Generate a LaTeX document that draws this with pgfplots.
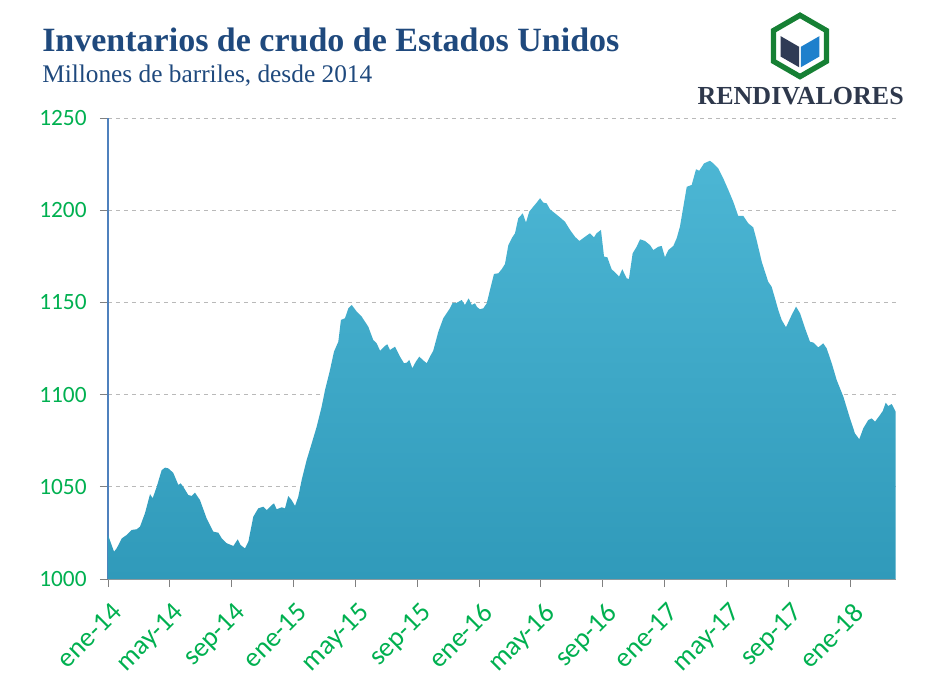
\documentclass[border=0pt]{standalone}
\usepackage{pgfplots}
\pgfplotsset{compat=1.18}
\usetikzlibrary{calc}
\usepackage{fontspec}
\setmainfont{Carlito}
\newfontfamily\titlefont{Liberation Serif}
\definecolor{titleblue}{RGB}{31,73,125}
\definecolor{tickgreen}{RGB}{0,176,80}
\definecolor{filltop}{RGB}{76,182,212}
\definecolor{fillbot}{RGB}{48,154,186}
\definecolor{axisblue}{RGB}{79,129,189}
\definecolor{logogreen}{RGB}{22,128,52}
\definecolor{logonavy}{RGB}{47,59,85}
\definecolor{logoblue}{RGB}{30,128,204}
\definecolor{logotext}{RGB}{46,56,76}
\pgfplotstableread{
x y
0.00 1023.9
0.39 1014.8
0.56 1016.6
0.89 1022.0
1.21 1023.9
1.53 1026.6
1.86 1027.0
2.07 1028.4
2.39 1035.6
2.72 1046.0
2.89 1043.8
3.15 1050.0
3.47 1059.0
3.69 1060.4
3.90 1060.0
4.22 1057.6
4.55 1051.0
4.70 1051.9
4.87 1050.0
5.19 1045.6
5.41 1045.0
5.63 1046.8
5.95 1042.8
6.38 1032.9
6.81 1025.7
7.14 1025.1
7.36 1022.0
7.68 1019.4
8.11 1017.9
8.39 1021.5
8.58 1018.4
8.86 1016.6
9.08 1020.2
9.40 1033.8
9.72 1038.3
10.05 1039.2
10.27 1037.4
10.59 1040.1
10.74 1041.0
10.91 1037.8
11.24 1038.9
11.45 1038.3
11.66 1045.0
11.88 1042.8
12.10 1039.6
12.31 1044.6
12.53 1053.7
12.85 1064.5
13.18 1073.6
13.50 1082.6
13.82 1093.4
14.04 1102.5
14.36 1113.3
14.62 1123.3
14.90 1128.7
15.07 1140.5
15.33 1141.4
15.55 1146.8
15.77 1148.6
16.09 1145.0
16.41 1142.3
16.84 1136.8
17.16 1129.6
17.38 1127.8
17.60 1123.8
17.92 1126.4
18.07 1127.3
18.24 1124.2
18.57 1126.0
18.89 1120.6
19.15 1117.0
19.32 1117.3
19.49 1118.8
19.69 1114.3
19.91 1117.8
20.14 1120.6
20.36 1118.8
20.62 1117.0
20.83 1120.6
21.04 1123.8
21.37 1134.1
21.69 1141.4
22.12 1146.8
22.30 1149.8
22.56 1149.8
22.88 1151.3
23.09 1148.6
23.33 1152.2
23.53 1148.6
23.74 1149.5
23.87 1147.5
24.06 1146.3
24.28 1146.8
24.50 1149.5
24.71 1156.7
24.97 1165.4
25.25 1165.8
25.47 1168.0
25.68 1170.8
25.90 1181.1
26.12 1184.8
26.33 1187.5
26.54 1195.6
26.83 1198.3
27.04 1193.3
27.25 1199.2
27.51 1201.9
27.73 1204.1
27.95 1206.5
28.16 1204.1
28.38 1203.7
28.59 1200.5
28.92 1198.3
29.24 1196.1
29.56 1193.8
29.89 1189.3
30.21 1185.6
30.49 1183.3
30.86 1185.6
31.18 1187.5
31.44 1185.3
31.61 1187.5
31.89 1189.3
32.09 1174.8
32.30 1174.5
32.58 1168.0
32.91 1165.4
33.06 1164.0
33.27 1168.0
33.55 1163.1
33.70 1162.7
33.94 1176.6
34.20 1180.2
34.42 1184.2
34.74 1183.3
35.06 1181.1
35.28 1178.4
35.60 1180.2
35.82 1180.6
36.03 1174.5
36.25 1178.4
36.57 1180.6
36.79 1184.8
37.00 1191.1
37.22 1201.9
37.44 1212.7
37.76 1213.7
38.04 1222.2
38.25 1221.4
38.56 1225.4
38.94 1226.8
39.16 1225.4
39.48 1222.7
39.80 1217.3
40.13 1211.0
40.45 1204.6
40.77 1196.9
41.10 1196.9
41.42 1192.9
41.74 1190.7
41.96 1183.8
42.29 1172.1
42.50 1166.6
42.71 1161.2
42.93 1158.5
43.15 1152.2
43.36 1145.9
43.58 1140.5
43.86 1136.5
44.23 1143.2
44.51 1147.7
44.77 1144.1
45.09 1136.0
45.41 1128.7
45.63 1128.2
45.95 1125.6
46.27 1127.8
46.49 1125.1
46.82 1117.0
47.14 1107.9
47.57 1098.9
48.00 1087.1
48.32 1079.0
48.60 1075.8
48.86 1081.7
49.18 1086.2
49.40 1087.1
49.62 1085.3
49.94 1088.9
50.12 1091.1
50.31 1095.6
50.48 1093.8
50.70 1094.9
50.96 1090.7
}\inventario
\begin{document}
\begin{tikzpicture}
\useasboundingbox (-81pt,-83.25pt) rectangle (615pt,434.25pt);
\begin{axis}[
  at={(0,0)}, anchor=south west,
  scale only axis,
  width=590.8pt, height=345.75pt,
  xmin=0, xmax=50.96,
  ymin=1000, ymax=1250,
  xtick={0,4,...,48},
  xticklabels={ene-14,may-14,sep-14,ene-15,may-15,sep-15,ene-16,may-16,sep-16,ene-17,may-17,sep-17,ene-18},
  ytick={1000,1050,...,1250},
  /pgf/number format/assume math mode=true,
  /pgf/number format/1000 sep={},
  tick label style={text=tickgreen},
  yticklabel style={font=\fontsize{17.5}{19}\selectfont, xshift=-6.5pt},
  xticklabel style={font=\fontsize{20.5}{22}\selectfont, rotate=45, anchor=north east, xshift=-3pt, yshift=-5.5pt},
  axis x line*=bottom, axis y line*=left,
  x axis line style={draw=gray!80, -},
  y axis line style={draw=axisblue, line width=0.9pt, -},
  tick align=outside,
  major tick length=6pt,
  tick style={draw=gray, line width=0.6pt},
  ymajorgrids,
  major grid style={dashed, draw=gray!55, line width=0.5pt},
  clip=false,
]
\addplot[draw=none, top color=filltop, bottom color=fillbot] table[x=x,y=y]{\inventario} \closedcycle;
\end{axis}
% titles
\node[anchor=base west, inner sep=0pt, text=titleblue] at (-49.5pt,395.5pt)
  {\titlefont\bfseries\fontsize{25.5}{27}\selectfont Inventarios de crudo de Estados Unidos};
\node[anchor=base west, inner sep=0pt, text=titleblue] at (-49.5pt,372pt)
  {\titlefont\fontsize{19}{21}\selectfont Millones de barriles, desde 2014};
% logo
\begin{scope}[shift={(519pt,399.8pt)}]
  \draw[logogreen, line width=4pt, fill=white] (90:23pt) -- (150:23pt) -- (210:23pt) -- (270:23pt) -- (330:23pt) -- (30:23pt) -- cycle;
  \fill[logonavy] (-0.6pt,-0.7pt) -- ($(150:16pt)+(-0.6pt,-0.7pt)$) -- ($(210:16pt)+(-0.6pt,0pt)$) -- ($(270:16pt)+(-0.6pt,0pt)$) -- cycle;
  \fill[logoblue] (0.6pt,-0.7pt) -- ($(30:16pt)+(0.6pt,-0.7pt)$) -- ($(330:16pt)+(0.6pt,0pt)$) -- ($(270:16pt)+(0.6pt,0pt)$) -- cycle;
\end{scope}
\node[anchor=base, inner sep=0pt, text=logotext] at (519.5pt,355.5pt)
  {\titlefont\bfseries\fontsize{19.5}{21}\selectfont RENDIVALORES};
\end{tikzpicture}
\end{document}
